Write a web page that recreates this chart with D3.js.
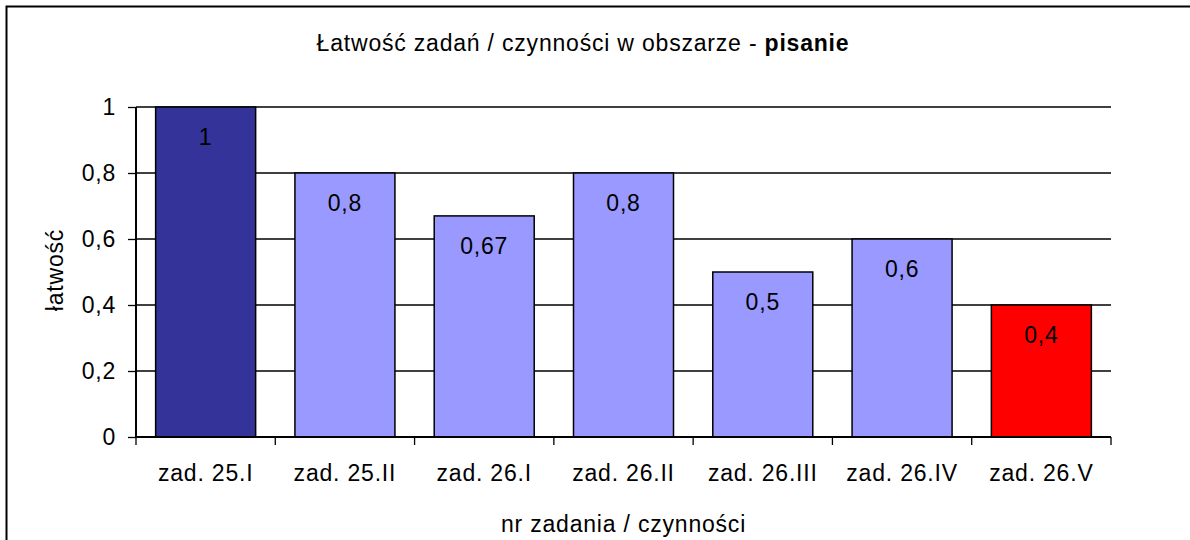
<!DOCTYPE html>
<html>
<head>
<meta charset="utf-8">
<script src="https://cdn.jsdelivr.net/npm/d3@7"></script>
<style>
	body { margin: 0; background: #fff; }
	svg { display: block; font-family: Arial, "Liberation Sans", sans-serif; letter-spacing: 0.8px; }
</style>
</head>
<body>
<div id="chart"></div>
<script>
var categories = ['zad. 25.I', 'zad. 25.II', 'zad. 26.I', 'zad. 26.II', 'zad. 26.III', 'zad. 26.IV', 'zad. 26.V'];
var values = [1, 0.8, 0.67, 0.8, 0.5, 0.6, 0.4];
var yTicks = [0, 0.2, 0.4, 0.6, 0.8, 1];

var barFill = ['#333399', '#9999ff', '#9999ff', '#9999ff', '#9999ff', '#9999ff', '#ff0000'];

var width = 1190, height = 540;
var fs = 23;
var fmt = function (v) { return String(v).replace('.', ','); };

var svg = d3.select('#chart')
	.append('svg')
	.attr('width', width)
	.attr('height', height);

// chart border (right/bottom edges fall outside the picture)
svg.append('rect')
	.attr('x', 6.5).attr('y', 6.5)
	.attr('width', 1300).attr('height', 700)
	.attr('fill', '#fff')
	.attr('stroke', '#000')
	.attr('stroke-width', 2);

var plotLeft = 136, plotRight = 1111, plotTop = 107, plotBottom = 437;

var x = d3.scaleBand()
	.domain(categories)
	.range([plotLeft, plotRight])
	.paddingInner(0.282)
	.paddingOuter(0.141);

var y = d3.scaleLinear()
	.domain([0, 1])
	.range([plotBottom, plotTop]);

// gridlines
svg.append('g')
	.selectAll('line')
	.data(yTicks.filter(function (d) { return d > 0; }))
	.enter()
	.append('line')
	.attr('x1', plotLeft).attr('x2', plotRight)
	.attr('y1', function (d) { return y(d); })
	.attr('y2', function (d) { return y(d); })
	.attr('stroke', '#000')
	.attr('stroke-width', 1.3);

// bars
svg.append('g')
	.selectAll('rect')
	.data(values)
	.enter()
	.append('rect')
	.attr('x', function (d, i) { return x(categories[i]); })
	.attr('y', function (d) { return y(d); })
	.attr('width', x.bandwidth())
	.attr('height', function (d) { return y(0) - y(d); })
	.attr('fill', function (d, i) { return barFill[i]; })
	.attr('stroke', '#000')
	.attr('stroke-width', 1.5);

// value labels
svg.append('g')
	.selectAll('text')
	.data(values)
	.enter()
	.append('text')
	.attr('x', function (d, i) { return x(categories[i]) + x.bandwidth() / 2; })
	.attr('y', function (d) { return y(d) + 38; })
	.attr('text-anchor', 'middle')
	.attr('font-size', fs)
	.text(function (d) { return fmt(d); });

// y axis
var yAxis = svg.append('g')
	.attr('transform', 'translate(' + plotLeft + ',0)')
	.call(d3.axisLeft(y).tickValues(yTicks).tickSize(8).tickPadding(12)
		.tickFormat(fmt));
yAxis.selectAll('text').attr('font-size', fs).attr('font-family', null).attr('fill', '#000');
yAxis.selectAll('line').attr('stroke', '#000').attr('stroke-width', 1.3);
yAxis.select('.domain').attr('stroke', '#000').attr('stroke-width', 2)
	.attr('d', 'M0,' + plotTop + 'V' + plotBottom);

// x axis
var boundaries = categories.map(function (c) { return x(c) - x.step() * x.paddingInner() / 2; });
boundaries.push(plotRight);
var xAxis = svg.append('g');
xAxis.append('line')
	.attr('x1', plotLeft).attr('x2', plotRight)
	.attr('y1', plotBottom).attr('y2', plotBottom)
	.attr('stroke', '#000').attr('stroke-width', 2);
xAxis.selectAll('line.tick')
	.data(boundaries)
	.enter()
	.append('line')
	.attr('class', 'tick')
	.attr('x1', function (d) { return d; })
	.attr('x2', function (d) { return d; })
	.attr('y1', plotBottom).attr('y2', plotBottom + 8)
	.attr('stroke', '#000').attr('stroke-width', 1.3);
xAxis.selectAll('text')
	.data(categories)
	.enter()
	.append('text')
	.attr('x', function (d) { return x(d) + x.bandwidth() / 2; })
	.attr('y', 481)
	.attr('text-anchor', 'middle')
	.attr('font-size', fs)
	.text(function (d) { return d; });

// titles
var title = svg.append('text')
	.attr('x', 583)
	.attr('y', 51)
	.attr('text-anchor', 'middle')
	.attr('font-size', fs);
title.append('tspan').text('Łatwość zadań / czynności w obszarze - ');
title.append('tspan').attr('font-weight', 'bold').text('pisanie');

svg.append('text')
	.attr('x', (plotLeft + plotRight) / 2)
	.attr('y', 532)
	.attr('text-anchor', 'middle')
	.attr('font-size', fs)
	.text('nr zadania / czynności');

svg.append('text')
	.attr('transform', 'translate(63,270) rotate(-90)')
	.attr('text-anchor', 'middle')
	.attr('font-size', fs)
	.text('łatwość');
</script>
</body>
</html>
